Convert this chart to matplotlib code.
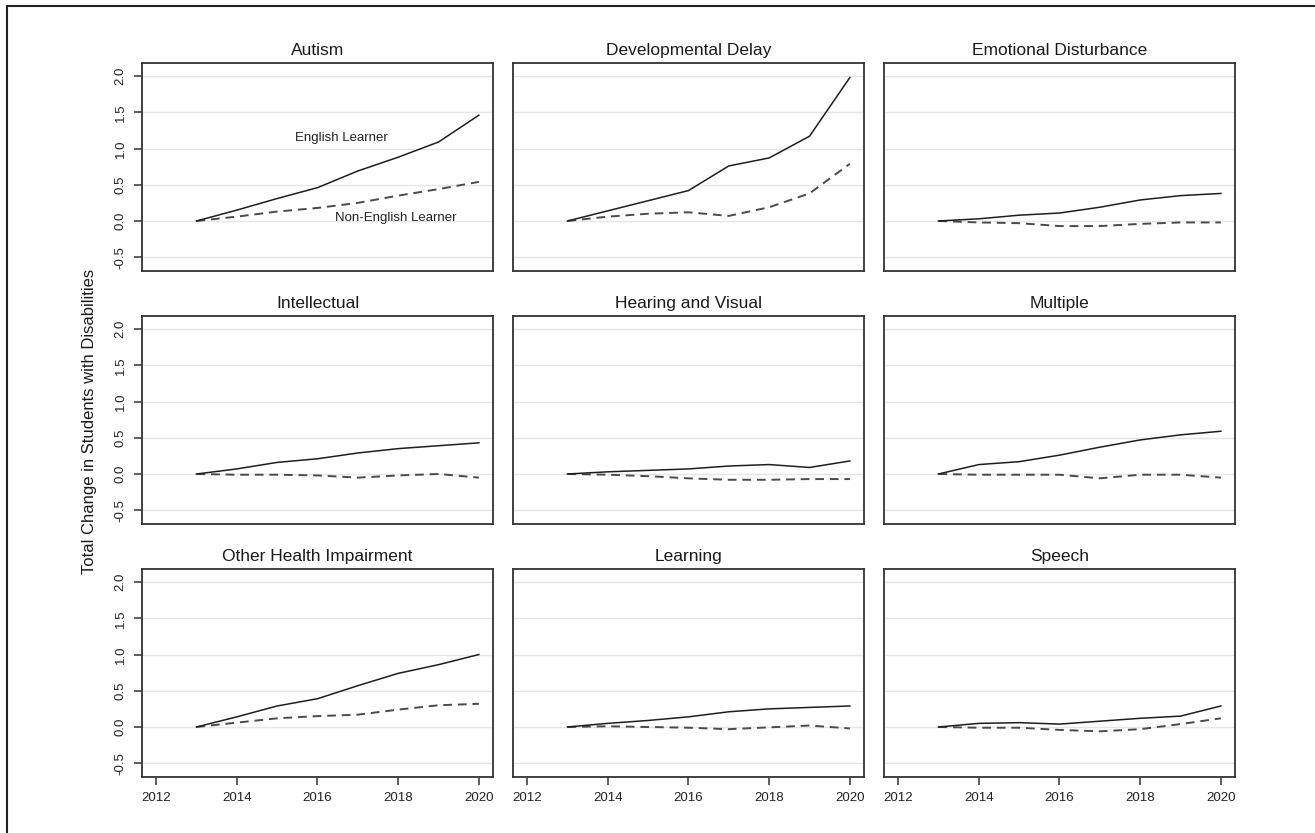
import matplotlib
matplotlib.use("Agg")
import matplotlib.pyplot as plt
from matplotlib.patches import Rectangle

plt.rcParams['font.family'] = ['Liberation Sans', 'DejaVu Sans']

# data
years = [2013, 2014, 2015, 2016, 2017, 2018, 2019, 2020]
titles = ["Autism", "Developmental Delay", "Emotional Disturbance",
          "Intellectual", "Hearing and Visual", "Multiple",
          "Other Health Impairment", "Learning", "Speech"]

el = [
    [0, 0.15, 0.31, 0.46, 0.69, 0.88, 1.09, 1.46],
    [0, 0.14, 0.28, 0.42, 0.76, 0.87, 1.17, 1.98],
    [0, 0.03, 0.08, 0.11, 0.19, 0.29, 0.35, 0.38],
    [0, 0.07, 0.16, 0.21, 0.29, 0.35, 0.39, 0.43],
    [0, 0.03, 0.05, 0.07, 0.11, 0.13, 0.09, 0.18],
    [0, 0.13, 0.17, 0.26, 0.37, 0.47, 0.54, 0.59],
    [0, 0.14, 0.29, 0.39, 0.57, 0.74, 0.86, 1.00],
    [0, 0.05, 0.09, 0.14, 0.21, 0.25, 0.27, 0.29],
    [0, 0.05, 0.06, 0.04, 0.08, 0.12, 0.15, 0.29],
]
non_el = [
    [0, 0.06, 0.13, 0.18, 0.25, 0.35, 0.44, 0.54],
    [0, 0.06, 0.10, 0.12, 0.07, 0.19, 0.38, 0.79],
    [0, -0.02, -0.03, -0.07, -0.07, -0.04, -0.02, -0.02],
    [0, -0.01, -0.01, -0.02, -0.05, -0.02, 0.0, -0.05],
    [0, -0.01, -0.03, -0.06, -0.08, -0.08, -0.07, -0.07],
    [0, -0.01, -0.01, -0.01, -0.06, -0.01, -0.01, -0.05],
    [0, 0.06, 0.12, 0.15, 0.17, 0.24, 0.30, 0.32],
    [0, 0.01, 0.0, -0.01, -0.03, -0.005, 0.02, -0.02],
    [0, -0.01, -0.01, -0.04, -0.06, -0.03, 0.04, 0.12],
]

yticks = [-0.5, 0.0, 0.5, 1.0, 1.5, 2.0]
xticks = [2012, 2014, 2016, 2018, 2020]

W, H = 1315, 833
fig = plt.figure(figsize=(W / 100, H / 100), dpi=100)

lefts = [142, 513, 884]
tops = [63, 316, 569]
aw, ah = 351, 208

for i, title in enumerate(titles):
    r, c = divmod(i, 3)
    ax = fig.add_axes([lefts[c] / W, 1 - (tops[r] + ah) / H, aw / W, ah / H])
    for y in yticks:
        ax.axhline(y, color='#e6e6e6', lw=1.0, zorder=0)
    ax.plot(years, el[i], color='#1e1e1e', lw=1.1, zorder=3)
    ax.plot(years, non_el[i], color='#4a4a4a', lw=1.4, ls=(0, (4.5, 3)), zorder=2)
    ax.set_xlim(2011.65, 2020.35)
    ax.set_ylim(-0.69, 2.18)
    ax.set_title(title, fontsize=12.5, color='#1a1a1a', pad=6)
    for s in ax.spines.values():
        s.set_color('#333333')
        s.set_linewidth(1.3)
    ax.set_yticks(yticks)
    ax.set_xticks(xticks)
    ax.tick_params(direction='out', length=6, width=1.1, color='#333333',
                   labelsize=9.5, labelcolor='#222222', pad=5)
    if c == 0:
        ax.set_yticklabels(['-0.5', '0.0', '0.5', '1.0', '1.5', '2.0'],
                           rotation=90, va='center')
    else:
        ax.tick_params(axis='y', left=False, labelleft=False)
    if r != 2:
        ax.tick_params(axis='x', bottom=False, labelbottom=False)
    if i == 0:
        ax.text(2016.6, 1.14, "English Learner", fontsize=9.5,
                ha='center', va='center', color='#222222')
        ax.text(2017.95, 0.04, "Non-English Learner", fontsize=9.5,
                ha='center', va='center', color='#222222')

fig.text(90 / W, 1 - 421 / H, "Total Change in Students with Disabilities",
         rotation=90, ha='center', va='center', fontsize=12, color='#1a1a1a')

# outer frame (only the left and top edges are inside the picture)
fig.patches.append(Rectangle((7 / W, -0.1), 1.2, 1.1 - 6 / H, transform=fig.transFigure,
                             fill=False, edgecolor='#222222', lw=1.5))

fig.savefig("out.png", dpi=100)
